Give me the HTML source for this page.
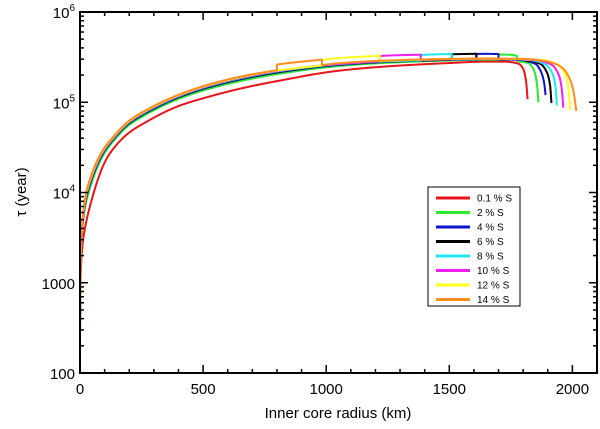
<!DOCTYPE html>
<html><head><meta charset="utf-8">
<style>
html,body{margin:0;padding:0;background:#fff;}
svg{display:block;font-family:"Liberation Sans",sans-serif;}
</style></head>
<body>
<svg id="chart" width="600" height="429" viewBox="0 0 600 429">
<g id="marks"></g>
<g id="axes"></g>
<g id="legend"></g>
</svg>
<script>
const radii = [0.5,2,5,10,20,46,73,100,127,195,262,397,532,668,803,1047,1250,1500,1650];
const seriesNames = ["0.1 % S","2 % S","4 % S","6 % S","8 % S","10 % S","12 % S","14 % S"];
const seriesColors = ["#e8141c","#2ee82e","#0a14c8","#000000","#1ee8f0","#f01ef0","#ffff1e","#ff8c1e"];
const valRed = [300,900,1700,2600,4000,8000,14000,21500,28500,45000,59000,90000,117000,145000,172000,223000,250000,272000,282000];
const valGreen = [420,1260,2480,4040,6700,12500,19700,27500,34800,54600,71600,108000,142800,175600,205600,251200,274000,290000,295800];
const valBlue = [450,1350,2675,4400,7375,13625,21125,29000,36375,57000,74750,112500,149250,183250,214000,258250,280000,294500,299250];
const valBlack = [460,1380,2740,4520,7600,14000,21600,29500,36900,57800,75800,114000,151400,185800,216800,260600,282000,296000,300400];
const valCyan = [470,1410,2805,4640,7825,14375,22075,30000,37425,58600,76850,115500,153550,188350,219600,262950,284000,297500,301550];
const valMagenta = [480,1440,2870,4760,8050,14750,22550,30500,37950,59400,77900,117000,155700,190900,222400,265300,286000,299000,302700];
const valYellow = [490,1470,2935,4880,8275,15125,23025,31000,38475,60200,78950,118500,157850,193450,225200,267650,288000,300500,303850];
const valOrange = [500,1500,3000,5000,8500,15500,23500,31500,39000,61000,80000,120000,160000,196000,228000,270000,290000,302000,305000];
const tailRed = [[1720,282000],[1780,268000],[1800,235000],[1812,170000],[1818,108000]];
const tailGreen = [[1750,292000],[1820,272000],[1845,222000],[1856,160000],[1862,100000]];
const tailBlue = [[1780,294000],[1850,266000],[1875,210000],[1886,160000],[1891,120000]];
const tailBlack = [[1800,294000],[1870,266000],[1898,210000],[1910,150000],[1915,98000]];
const tailCyan = [[1820,294000],[1890,263000],[1920,205000],[1932,145000],[1937,92000]];
const tailMagenta = [[1840,294000],[1915,261000],[1945,200000],[1957,140000],[1963,87000]];
const tailYellow = [[1860,296000],[1940,262000],[1972,200000],[1985,135000],[1991,82000]];
const tailOrange = [[1800,302000],[1900,282000],[1960,240000],[1990,180000],[2005,130000],[2016,80000]];
const stepStart = [null,1700,1610,1510,1384,1218,983,800];
const stepEnd = [null,1775,1700,1610,1510,1384,1218,983];
const stepFactor = 1.15;
const xTicks = [0,500,1000,1500,2000];
const yTicks = [100,1000,10000,100000,1000000];

const allVals=[valRed,valGreen,valBlue,valBlack,valCyan,valMagenta,valYellow,valOrange];
const allTails=[tailRed,tailGreen,tailBlue,tailBlack,tailCyan,tailMagenta,tailYellow,tailOrange];
const L=80,R=597,T=12,B=373,XMAX=2100;
const xS=r=>L+r/XMAX*(R-L);
const yS=v=>B-(Math.log10(v)-2)/4*(B-T);
const NS="http://www.w3.org/2000/svg";
function mk(tag,attrs,parent){const e=document.createElementNS(NS,tag);for(const k in attrs)e.setAttribute(k,attrs[k]);parent.appendChild(e);return e;}
const marks=document.getElementById('marks');
function interp(pts,r){for(let i=1;i<pts.length;i++){if(r<=pts[i][0]){const a=pts[i-1],b=pts[i];const t=(r-a[0])/(b[0]-a[0]);return Math.exp(Math.log(a[1])+t*(Math.log(b[1])-Math.log(a[1])));}}return pts[pts.length-1][1];}
function pchip(px){
  const n=px.length;
  if(n<3)return px;
  const h=[],dl=[];
  for(let i=0;i<n-1;i++){h.push(px[i+1][0]-px[i][0]);dl.push((px[i+1][1]-px[i][1])/h[i]);}
  const m=new Array(n);
  m[0]=dl[0];m[n-1]=dl[n-2];
  for(let i=1;i<n-1;i++){
    if(dl[i-1]*dl[i]<=0)m[i]=0;
    else{const w1=2*h[i]+h[i-1],w2=h[i]+2*h[i-1];m[i]=(w1+w2)/(w1/dl[i-1]+w2/dl[i]);}
  }
  const out=[];
  for(let i=0;i<n-1;i++){
    const steps=Math.max(2,Math.ceil(h[i]/0.7));
    for(let s=0;s<steps;s++){
      const t=s/steps,t2=t*t,t3=t2*t;
      const y=(2*t3-3*t2+1)*px[i][1]+(t3-2*t2+t)*h[i]*m[i]+(-2*t3+3*t2)*px[i+1][1]+(t3-t2)*h[i]*m[i+1];
      out.push([px[i][0]+t*h[i],y]);
    }
  }
  out.push(px[n-1]);
  return out;
}
allVals.forEach((vals,i)=>{
  const pts=radii.map((r,j)=>[r,vals[j]]).concat(allTails[i]);
  const a=stepStart[i],b=stepEnd[i];
  let segs=[];
  if(a!==null){
    const va=interp(pts,a),vb=interp(pts,b);
    const s1=pts.filter(p=>p[0]<a).concat([[a,va]]);
    const s2=[[a,va*stepFactor]].concat(pts.filter(p=>p[0]>a&&p[0]<b).map(p=>[p[0],p[1]*stepFactor])).concat([[b,vb*stepFactor]]);
    const s3=[[b,vb]].concat(pts.filter(p=>p[0]>b));
    segs=[s1,s2,s3];
  } else segs=[pts];
  let all=[];
  segs.forEach(s=>{all=all.concat(pchip(s.map(p=>[xS(p[0]),yS(p[1])])));});
  const d=all.map((p,k)=>(k?'L':'M')+p[0].toFixed(2)+','+p[1].toFixed(2)).join('');
  const path=mk('path',{d:d,fill:'none',stroke:seriesColors[i],'stroke-width':2,'stroke-linejoin':'round'},marks);
  
  
});
const ax=document.getElementById('axes');
const frame=mk('rect',{x:L,y:T,width:R-L,height:B-T,fill:'none',stroke:'#000','stroke-width':2},ax);


for(let r=0;r<=XMAX;r+=100){
  const x=xS(r),len=(r%500===0)?8:4;
  mk('line',{x1:x,y1:B,x2:x,y2:B-len,stroke:'#000','stroke-width':1.5},ax);
  mk('line',{x1:x,y1:T,x2:x,y2:T+len,stroke:'#000','stroke-width':1.5},ax);
}
xTicks.forEach(r=>{
  const t=mk('text',{x:xS(r),y:394,'font-size':15,'text-anchor':'middle'},ax);t.textContent=r;
  
  
});
for(let e=2;e<6;e++)for(let m=1;m<10;m++){
  const y=yS(m*Math.pow(10,e)),len=m===1?8:4;
  mk('line',{x1:L,y1:y,x2:L+len,y2:y,stroke:'#000','stroke-width':1.5},ax);
  mk('line',{x1:R,y1:y,x2:R-len,y2:y,stroke:'#000','stroke-width':1.5},ax);
}
yTicks.forEach(v=>{
  const y=yS(v);const e=Math.round(Math.log10(v));
  const t=mk('text',{x:75,y:y+6,'font-size':15,'text-anchor':'end'},ax);
  if(e>=4){t.textContent='10';const s=mk('tspan',{dy:-7,'font-size':10},t);s.textContent=e;}
  else t.textContent=v;
  
  
});
const xt=mk('text',{x:338,y:418,'font-size':15,'text-anchor':'middle'},ax);xt.textContent='Inner core radius (km)';


const yt=mk('text',{x:26,y:192,'font-size':15,'text-anchor':'middle',transform:'rotate(-90 26 192)'},ax);yt.textContent='τ (year)';


const lg=document.getElementById('legend');
const box=mk('rect',{x:428,y:187,width:92,height:119,fill:'#fff',stroke:'#000','stroke-width':1},lg);


seriesNames.forEach((n,i)=>{
  const y=198+i*14.5;
  const g=mk('g',{},lg);
  
  
  mk('line',{x1:436,y1:y,x2:470,y2:y,stroke:seriesColors[i],'stroke-width':3},g);
  const t=mk('text',{x:477,y:y+3.5,'font-size':10},g);t.textContent=n;
});
</script>
</body></html>
